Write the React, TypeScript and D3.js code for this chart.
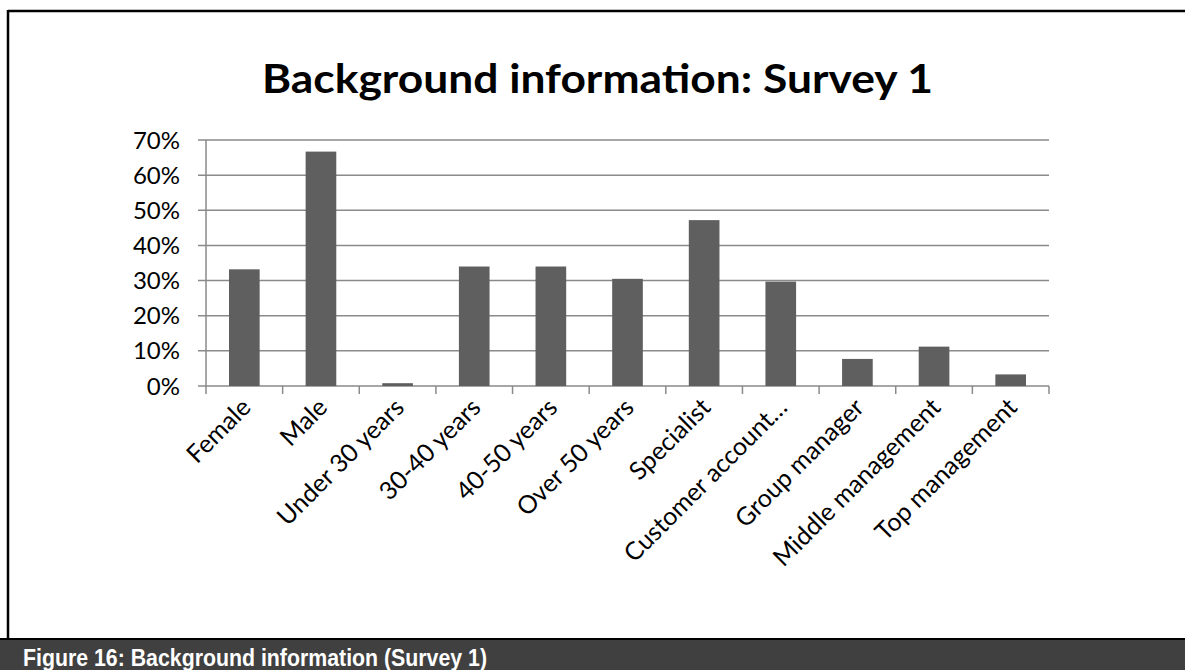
import React from "react";
import * as d3 from "d3";

const categories = [
  "Female",
  "Male",
  "Under 30 years",
  "30-40 years",
  "40-50 years",
  "Over 50 years",
  "Specialist",
  "Customer account…",
  "Group manager",
  "Middle management",
  "Top management",
];
const values = [0.332, 0.667, 0.008, 0.34, 0.34, 0.305, 0.472, 0.297, 0.077, 0.112, 0.033];
const yTicks = [0, 0.1, 0.2, 0.3, 0.4, 0.5, 0.6, 0.7];
const title = "Background information: Survey 1";
const caption = "Figure 16: Background information (Survey 1)";

const W = 1185;
const H = 670;
const plot = { left: 206, right: 1049, top: 140, bottom: 386 };
const font = "Lato, 'Open Sans', sans-serif";

export default function App() {
  const x = d3
    .scaleBand<string>()
    .domain(categories)
    .range([plot.left, plot.right])
    .paddingInner(0.6)
    .paddingOuter(0.3);
  const xBand = d3.scaleBand<string>().domain(categories).range([plot.left, plot.right]);
  const y = d3.scaleLinear().domain([0, 0.7]).range([plot.bottom, plot.top]);
  const fmt = d3.format(".0%");
  const gridColor = "#8a8a8a";

  return (
    <svg
      width={W}
      height={H}
      style={{ position: "absolute", left: 0, top: 0, background: "#fff" }}
    >
      {/* border */}
      <line x1={8} y1={11} x2={W} y2={11} stroke="#000" strokeWidth={2.5} />
      <line x1={8} y1={10} x2={8} y2={640} stroke="#000" strokeWidth={2.5} />
      <line x1={0} y1={639} x2={W} y2={639} stroke="#000" strokeWidth={2} />

      {/* title */}
      <text
        x={597.5}
        y={93}
        textAnchor="middle"
        fontFamily={font}
        fontWeight={700}
        fontSize={40}
        textLength={671}
        lengthAdjust="spacingAndGlyphs"
        fill="#000"
      >
        {title}
      </text>

      {/* gridlines */}
      {yTicks.map((t) => (
        <g key={t}>
          <line
            x1={plot.left - 8}
            x2={plot.right}
            y1={y(t)}
            y2={y(t)}
            stroke={gridColor}
            strokeWidth={1.5}
          />
          <text
            x={180}
            y={y(t)}
            dy="0.36em"
            textAnchor="end"
            fontFamily={font}
            fontSize={24}
            fill="#000"
          >
            {fmt(t)}
          </text>
        </g>
      ))}

      {/* y axis */}
      <line x1={plot.left} x2={plot.left} y1={plot.top} y2={plot.bottom} stroke={gridColor} strokeWidth={1.5} />

      {/* x ticks */}
      {categories.map((c) => (
        <line
          key={"t" + c}
          x1={xBand(c)!}
          x2={xBand(c)!}
          y1={plot.bottom}
          y2={plot.bottom + 8}
          stroke={gridColor}
          strokeWidth={1.5}
        />
      ))}
      <line x1={plot.right} x2={plot.right} y1={plot.bottom} y2={plot.bottom + 8} stroke={gridColor} strokeWidth={1.5} />

      {/* bars */}
      {categories.map((c, i) => (
        <rect
          key={"b" + c}
          x={x(c)!}
          width={x.bandwidth()}
          y={y(values[i])}
          height={plot.bottom - y(values[i])}
          fill="#5f5f5f"
        />
      ))}

      {/* x labels */}
      {categories.map((c) => {
        const cx = xBand(c)! + xBand.bandwidth() / 2;
        return (
          <text
            key={"l" + c}
            transform={`translate(${cx + 8},${409}) rotate(-45)`}
            textAnchor="end"
            fontFamily={font}
            fontSize={25}
            fill="#000"
          >
            {c}
          </text>
        );
      })}

      {/* caption */}
      <rect x={0} y={640} width={W} height={30} fill="#404040" />
      <text
        x={23}
        y={666}
        fontFamily="'Liberation Sans', Arial, sans-serif"
        fontWeight={700}
        fontSize={24}
        textLength={464}
        lengthAdjust="spacingAndGlyphs"
        fill="#fff"
      >
        {caption}
      </text>
    </svg>
  );
}
